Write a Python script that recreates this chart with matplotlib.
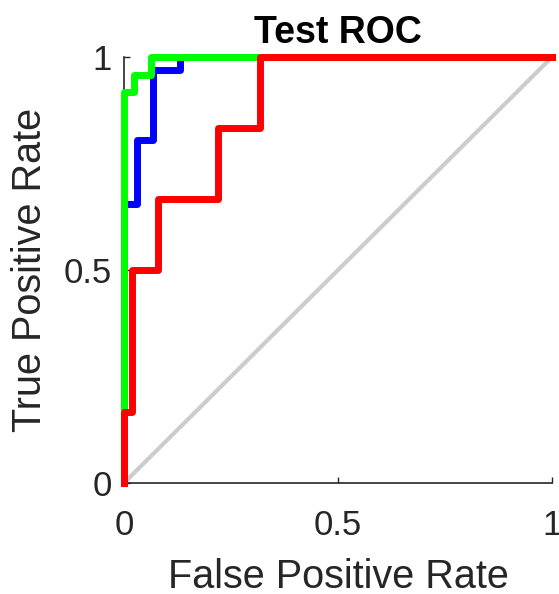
import matplotlib.pyplot as plt

plt.rcParams['font.family'] = ['Liberation Sans', 'DejaVu Sans']

# ROC curves (false positive rate, true positive rate)
fpr_blue = [0, 0, 0.03, 0.03, 0.067, 0.067, 0.13, 0.13, 1]
tpr_blue = [0, 0.655, 0.655, 0.805, 0.805, 0.97, 0.97, 1, 1]

fpr_green = [0, 0, 0.022, 0.022, 0.062, 0.062, 1]
tpr_green = [0, 0.917, 0.917, 0.958, 0.958, 1, 1]

fpr_red = [0, 0, 0.019, 0.019, 0.079, 0.079, 0.22, 0.22, 0.318, 0.318, 1]
tpr_red = [0, 0.167, 0.167, 0.5, 0.5, 0.667, 0.667, 0.833, 0.833, 1, 1]

ticks = [0, 0.5, 1]
tick_labels = ['0', '0.5', '1']

txt = (0.15, 0.15, 0.15)

fig = plt.figure(figsize=(5.59, 5.94), dpi=100)
ax = fig.add_axes([0.222, 0.187, 0.7655, 0.717])

ax.plot([0, 1], [0, 1], color=(0.8, 0.8, 0.8), lw=3, zorder=1)
ax.plot(fpr_blue, tpr_blue, color='blue', lw=5, clip_on=False, zorder=2)
ax.plot(fpr_green, tpr_green, color=(0, 1, 0), lw=5, clip_on=False, zorder=3)
ax.plot(fpr_red, tpr_red, color='red', lw=5, clip_on=False, zorder=4)

ax.set_xlim(0, 1)
ax.set_ylim(0, 1)
ax.set_xticks(ticks)
ax.set_xticklabels(tick_labels)
ax.set_yticks(ticks)
ax.set_yticklabels(tick_labels)

for s in ['top', 'right']:
    ax.spines[s].set_visible(False)
for s in ['left', 'bottom']:
    ax.spines[s].set_color(txt)
    ax.spines[s].set_linewidth(1.2)
    ax.spines[s].set_zorder(0)

ax.tick_params(direction='in', length=4, width=1, colors=txt, labelsize=25)
ax.tick_params(axis='x', pad=19)
ax.tick_params(axis='y', pad=9)

ax.set_xlabel('False Positive Rate', fontsize=28.5, color=txt, labelpad=11)
ax.set_ylabel('True Positive Rate', fontsize=28.5, color=txt, labelpad=10)
ax.set_title('Test ROC', fontsize=27, fontweight='bold', color='black', pad=10)

fig.savefig('out.png', dpi=100)
